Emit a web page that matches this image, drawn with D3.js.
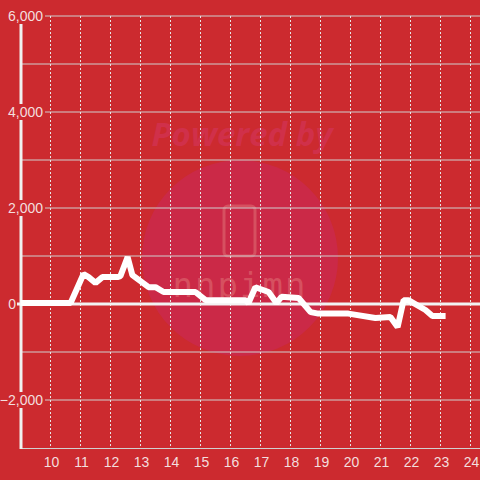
<!DOCTYPE html>
<html>
<head>
<meta charset="utf-8">
<script src="https://cdn.jsdelivr.net/npm/d3@7"></script>
<style>
html,body{margin:0;padding:0;background:#cc2a2f;}
svg{display:block;font-family:"Liberation Sans",Arial,sans-serif;}
</style>
</head>
<body>
<svg id="chart" width="480" height="480"></svg>
<script>
// Data (hour of day, value)
const hours = [9.0, 10.67, 11.1, 11.27, 11.5, 11.73, 12.23, 12.33, 12.57, 12.73, 13.27, 13.5, 13.77, 14.83, 15.17, 16.5, 16.6, 16.83, 17.27, 17.53, 17.7, 18.27, 18.67, 18.93, 19.93, 20.83, 21.33, 21.57, 21.77, 21.93, 22.5, 22.73, 23.17];
const values = [20, 20, 625, 560, 440, 560, 560, 580, 980, 600, 350, 350, 250, 250, 80, 80, 20, 350, 250, 20, 150, 125, -170, -200, -200, -290, -270, -480, 80, 80, -125, -250, -250];
const xTicks = [10, 11, 12, 13, 14, 15, 16, 17, 18, 19, 20, 21, 22, 23, 24];
const yLabelTicks = [6000, 4000, 2000, 0, -2000];
const yGridTicks = [6000, 5000, 4000, 3000, 2000, 1000, -1000, -2000];

const bg = "#cc2a2f";
const svg = d3.select("#chart");
const x = d3.scaleLinear().domain([9, 24.3167]).range([20.5, 480]);
const y = d3.scaleLinear().domain([-3000, 6000]).range([448, 16]);

// watermark
svg.append("circle").attr("cx", 240).attr("cy", 258).attr("r", 98).attr("fill", "#cb2947");
svg.append("text").attr("x", 242).attr("y", 146).attr("text-anchor", "middle")
  .attr("font-size", 33).attr("font-weight", "bold").attr("font-style", "italic")
  .attr("fill", "#d0304a").attr("font-family", "'Open Sans',sans-serif").text("Powered by");
svg.append("rect").attr("x", 224).attr("y", 206).attr("width", 31).attr("height", 50).attr("rx", 4)
  .attr("fill", "none").attr("stroke", "#d65060").attr("stroke-width", 3);
svg.append("text").attr("x", 240).attr("y", 297).attr("text-anchor", "middle")
  .attr("font-size", 34).attr("fill", "#d65060").attr("letter-spacing", 2)
  .attr("font-family", "'DejaVu Sans Mono',monospace").text("nnpimn");

// horizontal grid
svg.append("g").selectAll("line").data(yGridTicks).join("line")
  .attr("x1", 21).attr("x2", 480)
  .attr("y1", d => y(d)).attr("y2", d => y(d))
  .attr("stroke", "#cfcfcf").attr("stroke-width", 1);

// vertical dashed grid
svg.append("g").selectAll("line").data(xTicks).join("line")
  .attr("x1", d => Math.round(x(d)) + 0.5).attr("x2", d => Math.round(x(d)) + 0.5)
  .attr("y1", y(6000)).attr("y2", 448)
  .attr("stroke", "#e6e6e6").attr("stroke-width", 1).attr("stroke-dasharray", "2,2");

// bottom axis line
svg.append("line").attr("x1", 21).attr("x2", 480).attr("y1", 448.5).attr("y2", 448.5)
  .attr("stroke", "#d0d0d0").attr("stroke-width", 1);

// y axis line
svg.append("line").attr("x1", 21).attr("x2", 21).attr("y1", 16).attr("y2", 449)
  .attr("stroke", "#f0f0f0").attr("stroke-width", 3);

// zero line
svg.append("line").attr("x1", 17).attr("x2", 480).attr("y1", y(0)).attr("y2", y(0))
  .attr("stroke", "#f2f2f2").attr("stroke-width", 3);

// y labels with background
const yl = svg.append("g").selectAll("g").data(yLabelTicks).join("g");
yl.filter(d => d !== 0).append("rect")
  .attr("x", 0).attr("y", d => y(d) - 8).attr("width", 45).attr("height", 16).attr("fill", bg);
yl.append("text")
  .attr("x", d => d === 0 ? 16 : 43).attr("y", d => y(d)).attr("dy", "0.35em")
  .attr("text-anchor", "end").attr("font-size", 14).attr("fill", "#f3dede")
  .text(d => d3.format(",")(d));

// x labels
svg.append("g").selectAll("text").data(xTicks).join("text")
  .attr("x", d => x(d) + 1).attr("y", 462).attr("dy", "0.35em")
  .attr("text-anchor", "middle").attr("font-size", 14).attr("fill", "#f3dede")
  .text(d => d);

// data line
const pts = hours.map((h, i) => [h, values[i]]);
svg.append("path").datum(pts)
  .attr("d", d3.line().x(d => x(d[0])).y(d => y(d[1])))
  .attr("fill", "none").attr("stroke", "#ffffff").attr("stroke-width", 6)
  .attr("stroke-linejoin", "bevel");
</script>
</body>
</html>
